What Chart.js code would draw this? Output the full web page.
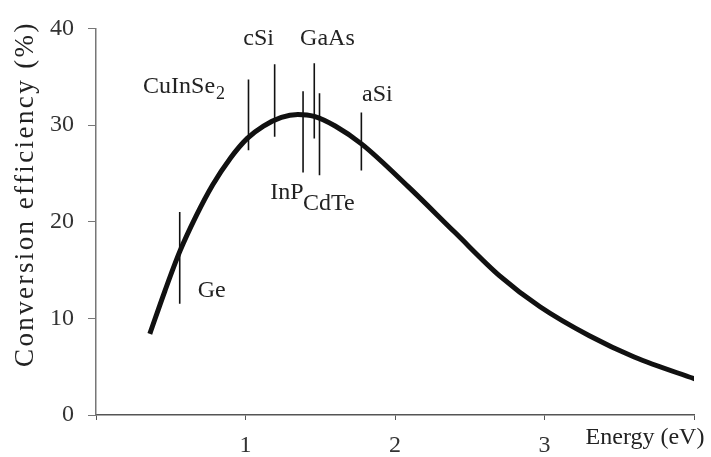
<!DOCTYPE html>
<html>
<head>
<meta charset="utf-8">
<script src="https://cdn.jsdelivr.net/npm/chart.js@4"></script>
<style>
  html, body { margin: 0; padding: 0; background: #fff; }
  #wrap { width: 711px; height: 457px; }
</style>
</head>
<body>
<div id="wrap"><canvas id="chart"></canvas></div>
<script>
// Curva de eficiencia
const energy = [0.36, 0.46, 0.56, 0.67, 0.78, 0.9, 1.01, 1.12, 1.24, 1.35, 1.46, 1.6, 1.78, 2.09, 2.4, 2.7, 2.97, 3.3, 3.6, 4.03];
const efficiency = [8.4, 12.8, 16.9, 20.6, 23.8, 26.6, 28.6, 29.9, 30.8, 31.1, 30.9, 29.9, 28.0, 23.6, 18.9, 14.4, 11.2, 8.2, 6.0, 3.6];

// Materiales: energía del gap y extremos de la marca vertical
const materials = ['Ge', 'CuInSe2', 'cSi', 'InP', 'GaAs', 'CdTe', 'aSi'];
const gapEnergy = [0.56, 1.02, 1.195, 1.385, 1.46, 1.495, 1.775];
const markLow = [11.5, 27.4, 28.8, 25.1, 28.6, 24.8, 25.3];
const markHigh = [21.0, 34.7, 36.3, 33.5, 36.4, 33.3, 31.3];

// Ejes
const yTicks = [0, 10, 20, 30, 40];
const xTickLabels = ['', '1', '2', '3', ''];

// Posición de cada etiqueta (en unidades de datos: eV, %)
const labelX = [0.68, 0.315, 0.985, 1.165, 1.365, 1.385, 1.78];
const labelY = [12.2, 33.3, 38.3, 22.4, 38.3, 21.2, 32.5];

const SERIF = '"Liberation Serif", "DejaVu Serif", serif';

const datasets = [{
    data: energy.map((e, i) => ({ x: e, y: efficiency[i] })),
    borderColor: '#111',
    borderWidth: 5,
    pointRadius: 0,
    cubicInterpolationMode: 'monotone'
}];
materials.forEach((m, i) => {
    datasets.push({
        data: [{ x: gapEnergy[i], y: markLow[i] }, { x: gapEnergy[i], y: markHigh[i] }],
        borderColor: '#111',
        borderWidth: 1.6,
        pointRadius: 0
    });
});

// Etiquetas de materiales y títulos de ejes
const textPlugin = {
    id: 'texts',
    afterDatasetsDraw(chart) {
        const ctx = chart.ctx;
        const xs = chart.scales.x, ys = chart.scales.y;
        ctx.save();
        ctx.fillStyle = '#222';
        ctx.font = '24px ' + SERIF;
        ctx.textBaseline = 'alphabetic';
        ctx.textAlign = 'left';
        materials.forEach((m, i) => {
            const px = xs.getPixelForValue(labelX[i]);
            const py = ys.getPixelForValue(labelY[i]);
            if (m === 'CuInSe2') {
                ctx.fillText('CuInSe', px, py);
                const w = ctx.measureText('CuInSe').width;
                ctx.font = '18px ' + SERIF;
                ctx.fillText('2', px + w + 1, py + 6);
                ctx.font = '24px ' + SERIF;
            } else {
                ctx.fillText(m, px, py);
            }
        });
        // título eje x
        ctx.font = '24px ' + SERIF;
        ctx.textAlign = 'center';
        ctx.fillText('Energy (eV)', 645, 444);
        // título eje y
        ctx.translate(26, 195);
        ctx.rotate(-Math.PI / 2);
        ctx.font = '27px ' + SERIF;
        const title = 'Conversion efficiency (%)';
        const w = ctx.measureText(title).width;
        ctx.letterSpacing = Math.max(0, (344 - w) / (title.length - 1)).toFixed(1) + 'px';
        ctx.textBaseline = 'middle';
        ctx.textAlign = 'left';
        ctx.fillText(title, -172, 0);
        ctx.restore();
    }
};

new Chart(document.getElementById('chart'), {
    type: 'line',
    data: { datasets },
    options: {
        responsive: true,
        maintainAspectRatio: false,
        animation: false,
        layout: { padding: { top: 13, right: 17, left: 0, bottom: 0 } },
        plugins: { legend: { display: false }, tooltip: { enabled: false } },
        scales: {
            x: {
                type: 'linear',
                min: 0, max: 4,
                afterBuildTicks: s => { s.ticks = xTickLabels.map((t, i) => ({ value: i })); },
                afterFit: s => { s.height = 42; },
                border: { display: true, color: '#555', width: 1.5 },
                grid: { display: true, drawOnChartArea: false, drawTicks: true, tickLength: 5, color: '#555' },
                ticks: {
                    color: '#333', padding: 11, maxRotation: 0, autoSkip: false,
                    font: { family: SERIF, size: 24 },
                    callback: (v, i) => xTickLabels[i]
                }
            },
            y: {
                min: 0, max: 40,
                afterBuildTicks: s => { s.ticks = yTicks.map(v => ({ value: v })); },
                afterFit: s => { s.width = 96; },
                border: { display: true, color: '#777', width: 1.5 },
                grid: { display: true, drawOnChartArea: false, drawTicks: true, tickLength: 8, color: '#777' },
                ticks: {
                    color: '#333', padding: 14,
                    font: { family: SERIF, size: 24 }
                }
            }
        }
    },
    plugins: [textPlugin]
});
</script>
</body>
</html>
